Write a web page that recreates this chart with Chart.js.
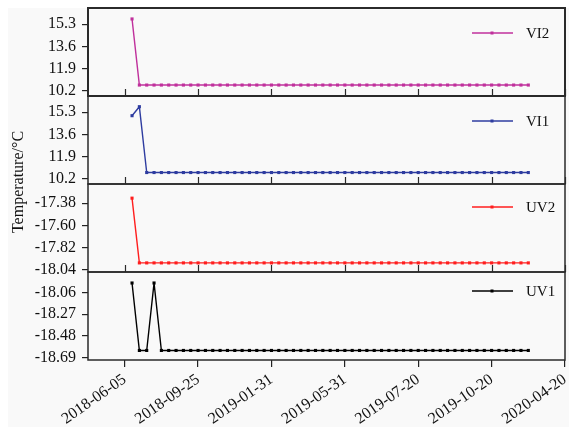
<!DOCTYPE html>
<html lang="en">
<head>
  <meta charset="UTF-8">
  <title>Temperature panels</title>
  <script src="https://cdn.jsdelivr.net/npm/chart.js"></script>
  <style>
    html, body { margin: 0; padding: 0; background: #fff; }
  </style>
</head>
<body>
  <canvas id="tempChart" width="569" height="427"></canvas>
  <script>
    // x axis: tick positions and their date labels
    const dateTicks = [0, 10, 20, 30, 40, 50, 60];
    const dateLabels = ['2018-06-05', '2018-09-25', '2019-01-31', '2019-05-31', '2019-07-20', '2019-10-20', '2020-04-20'];

    // y tick values for each panel
    const viTicks = [10.2, 11.9, 13.6, 15.3];
    const uv2Ticks = [-18.04, -17.82, -17.60, -17.38];
    const uv1Ticks = [-18.69, -18.48, -18.27, -18.06];

    // series (one sample per step, starting at step 1)
    const vi2 = [
      15.71, 10.64, 10.64, 10.64, 10.64, 10.64, 10.64, 10.64, 10.64, 10.64,
      10.64, 10.64, 10.64, 10.64, 10.64, 10.64, 10.64, 10.64, 10.64, 10.64,
      10.64, 10.64, 10.64, 10.64, 10.64, 10.64, 10.64, 10.64, 10.64, 10.64,
      10.64, 10.64, 10.64, 10.64, 10.64, 10.64, 10.64, 10.64, 10.64, 10.64,
      10.64, 10.64, 10.64, 10.64, 10.64, 10.64, 10.64, 10.64, 10.64, 10.64,
      10.64, 10.64, 10.64, 10.64, 10.64
    ];
    const vi1 = [
      15.04, 15.73, 10.68, 10.68, 10.68, 10.68, 10.68, 10.68, 10.68, 10.68,
      10.68, 10.68, 10.68, 10.68, 10.68, 10.68, 10.68, 10.68, 10.68, 10.68,
      10.68, 10.68, 10.68, 10.68, 10.68, 10.68, 10.68, 10.68, 10.68, 10.68,
      10.68, 10.68, 10.68, 10.68, 10.68, 10.68, 10.68, 10.68, 10.68, 10.68,
      10.68, 10.68, 10.68, 10.68, 10.68, 10.68, 10.68, 10.68, 10.68, 10.68,
      10.68, 10.68, 10.68, 10.68, 10.68
    ];
    const uv2 = [
      -17.33, -17.97, -17.97, -17.97, -17.97, -17.97, -17.97, -17.97, -17.97, -17.97,
      -17.97, -17.97, -17.97, -17.97, -17.97, -17.97, -17.97, -17.97, -17.97, -17.97,
      -17.97, -17.97, -17.97, -17.97, -17.97, -17.97, -17.97, -17.97, -17.97, -17.97,
      -17.97, -17.97, -17.97, -17.97, -17.97, -17.97, -17.97, -17.97, -17.97, -17.97,
      -17.97, -17.97, -17.97, -17.97, -17.97, -17.97, -17.97, -17.97, -17.97, -17.97,
      -17.97, -17.97, -17.97, -17.97, -17.97
    ];
    const uv1 = [
      -17.97, -18.62, -18.62, -17.97, -18.62, -18.62, -18.62, -18.62, -18.62, -18.62,
      -18.62, -18.62, -18.62, -18.62, -18.62, -18.62, -18.62, -18.62, -18.62, -18.62,
      -18.62, -18.62, -18.62, -18.62, -18.62, -18.62, -18.62, -18.62, -18.62, -18.62,
      -18.62, -18.62, -18.62, -18.62, -18.62, -18.62, -18.62, -18.62, -18.62, -18.62,
      -18.62, -18.62, -18.62, -18.62, -18.62, -18.62, -18.62, -18.62, -18.62, -18.62,
      -18.62, -18.62, -18.62, -18.62, -18.62
    ];

    const toPoints = arr => arr.map((v, i) => ({ x: i + 1, y: v }));

    Chart.defaults.font.family = "'Liberation Serif', 'Times New Roman', serif";
    Chart.defaults.font.size = 15;
    Chart.defaults.color = '#111';

    // drop the padding Chart.js reserves for edge labels, the layout is fixed
    function noPad(s) {
      s.paddingTop = 0; s.paddingBottom = 0; s.paddingLeft = 0; s.paddingRight = 0;
    }

    function panelAxis(min, max, ticks, decimals) {
      return {
        type: 'linear',
        position: 'left',
        stack: 'panels',
        stackWeight: 1,
        min: min,
        max: max,
        afterBuildTicks: s => { s.ticks = ticks.map(v => ({ value: v })); },
        afterFit: s => { s.width = 88; noPad(s); },
        border: { display: false },
        grid: { drawOnChartArea: false, tickLength: 6, color: '#222', lineWidth: 1.2 },
        ticks: { autoSkip: false, padding: 6, font: { size: 16 }, callback: v => v.toFixed(decimals) }
      };
    }

    const panels = [
      { axis: 'yVI2', label: 'VI2', color: '#c0309c', legendY: 25 },
      { axis: 'yVI1', label: 'VI1', color: '#2e3ca0', legendY: 25 },
      { axis: 'yUV2', label: 'UV2', color: '#ff1e1e', legendY: 23 },
      { axis: 'yUV1', label: 'UV1', color: '#000000', legendY: 19 }
    ];

    const panelPlugin = {
      id: 'panelPlugin',
      beforeDraw(chart) {
        const ctx = chart.ctx;
        ctx.save();
        ctx.fillStyle = '#f9f9f9';
        ctx.fillRect(8, 8, chart.width - 8, chart.height - 8);
        ctx.restore();
      },
      afterDatasetsDraw(chart) {
        const ctx = chart.ctx;
        const area = chart.chartArea;
        const xs = chart.scales.x;
        ctx.save();
        panels.forEach((p, i) => {
          const s = chart.scales[p.axis];
          // frame
          ctx.strokeStyle = '#2a2a2a';
          ctx.lineWidth = i === 0 ? 2 : 1.5;
          ctx.strokeRect(area.left, s.top, area.right - area.left, s.bottom - s.top);
          // inward x ticks on upper panels
          if (i < panels.length - 1) {
            ctx.lineWidth = 1.2;
            ctx.beginPath();
            dateTicks.forEach(v => {
              const px = Math.round(xs.getPixelForValue(v)) + 0.5;
              ctx.moveTo(px, s.bottom);
              ctx.lineTo(px, s.bottom - 7);
            });
            ctx.stroke();
          }
          // legend
          const ly = s.top + p.legendY;
          ctx.strokeStyle = p.color;
          ctx.lineWidth = 1.3;
          ctx.beginPath();
          ctx.moveTo(472, ly);
          ctx.lineTo(513, ly);
          ctx.stroke();
          ctx.fillStyle = p.color;
          ctx.fillRect(490.5, ly - 1.5, 3, 3);
          ctx.fillStyle = '#111';
          ctx.font = "15px 'Liberation Serif', serif";
          ctx.textBaseline = 'middle';
          ctx.textAlign = 'left';
          ctx.fillText(p.label, 526, ly + 1);
        });
        // y axis title
        ctx.translate(19, 182);
        ctx.rotate(-Math.PI / 2);
        ctx.fillStyle = '#111';
        ctx.font = "16px 'Liberation Serif', serif";
        ctx.textAlign = 'center';
        ctx.textBaseline = 'middle';
        ctx.fillText('Temperature/\u00B0C', 0, 0);
        ctx.restore();
      }
    };

    const series = [
      { data: uv1, axis: 'yUV1', color: '#000000' },
      { data: uv2, axis: 'yUV2', color: '#ff1e1e' },
      { data: vi1, axis: 'yVI1', color: '#2e3ca0' },
      { data: vi2, axis: 'yVI2', color: '#c0309c' }
    ];

    new Chart(document.getElementById('tempChart'), {
      type: 'line',
      data: {
        datasets: series.map(s => ({
          data: toPoints(s.data),
          yAxisID: s.axis,
          borderColor: s.color,
          backgroundColor: s.color,
          borderWidth: 1.4,
          borderJoinStyle: 'bevel',
          pointStyle: 'rect',
          pointRadius: 2.2,
          pointBorderWidth: 0,
          tension: 0,
          fill: false
        }))
      },
      options: {
        responsive: false,
        animation: false,
        layout: { padding: { top: 8, right: 4, left: 0, bottom: 0 } },
        plugins: { legend: { display: false }, tooltip: { enabled: false } },
        scales: {
          x: {
            type: 'linear',
            min: -5,
            max: 60,
            afterBuildTicks: s => { s.ticks = dateTicks.map(v => ({ value: v })); },
            afterFit: s => { s.height = 67; noPad(s); },
            border: { display: false },
            grid: { drawOnChartArea: false, tickLength: 7, color: '#222', lineWidth: 1.2 },
            ticks: { autoSkip: false, minRotation: 35, maxRotation: 35, padding: 3, font: { size: 16 }, callback: (v, i) => dateLabels[i] }
          },
          yUV1: panelAxis(-18.712, -17.864, uv1Ticks, 2),
          yUV2: panelAxis(-18.06, -17.19, uv2Ticks, 2),
          yVI1: panelAxis(9.8, 16.55, viTicks, 1),
          yVI2: panelAxis(9.8, 16.55, viTicks, 1)
        }
      },
      plugins: [panelPlugin]
    });
  </script>
</body>
</html>
